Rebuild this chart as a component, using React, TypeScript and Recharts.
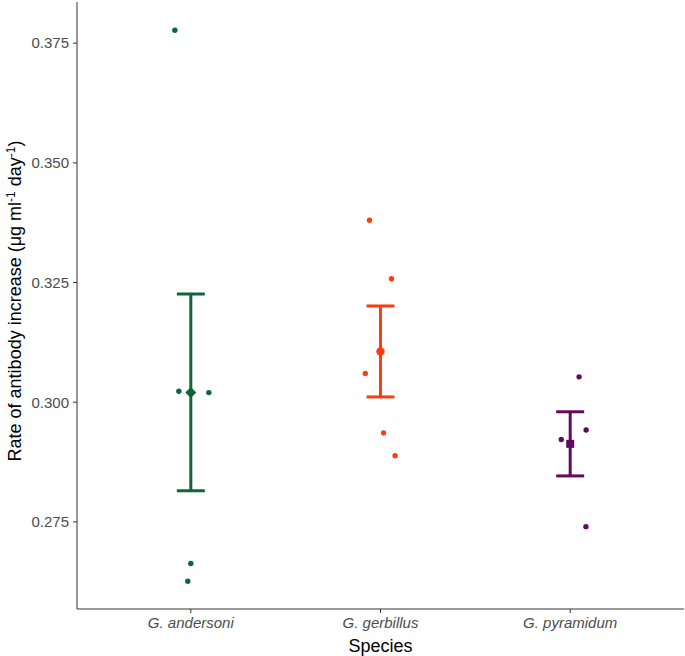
import {
  ComposedChart,
  Scatter,
  XAxis,
  YAxis,
  ErrorBar,
} from "recharts";

const species = ["G. andersoni", "G. gerbillus", "G. pyramidum"];
const colors = ["#0d6638", "#fc3d0f", "#600a60"];

// individual animals (x = jitter offset from group centre, in category units)
const andersoniJitter = [-0.084, -0.063, 0.095, 0.0, -0.016];
const andersoniRate = [0.3777, 0.3023, 0.302, 0.2663, 0.2626];
const gerbillusJitter = [-0.058, 0.058, -0.08, 0.016, 0.077];
const gerbillusRate = [0.338, 0.3258, 0.306, 0.2936, 0.2888];
const pyramidumJitter = [0.047, 0.084, -0.047, 0.083];
const pyramidumRate = [0.3053, 0.2942, 0.2922, 0.274];

// group means with error limits
const meanRate = [0.302, 0.3106, 0.2913];
const lowerRate = [0.2815, 0.3011, 0.2846];
const upperRate = [0.3226, 0.3201, 0.298];

const yTicks = [0.275, 0.3, 0.325, 0.35, 0.375];

const FONT = "'Liberation Sans', Arial, sans-serif";

const toPoints = (group: number, jitter: number[], rate: number[]) =>
  rate.map((r, i) => ({ x: group + 1 + jitter[i], y: r }));

const pointsData = [
  toPoints(0, andersoniJitter, andersoniRate),
  toPoints(1, gerbillusJitter, gerbillusRate),
  toPoints(2, pyramidumJitter, pyramidumRate),
];

const meansData = meanRate.map((m, i) => ({
  x: i + 1,
  y: m,
  err: [m - lowerRate[i], upperRate[i] - m],
}));

const dot = (color: string) => (props: any) => (
  <circle cx={props.cx} cy={props.cy} r={2.7} fill={color} />
);

const meanShape = (i: number) => (props: any) => {
  const { cx, cy } = props;
  const c = colors[i];
  if (i === 0)
    return (
      <path
        d={`M${cx},${cy - 5.5} L${cx + 5.5},${cy} L${cx},${cy + 5.5} L${cx - 5.5},${cy} Z`}
        fill={c}
      />
    );
  if (i === 1) return <circle cx={cx} cy={cy} r={4.2} fill={c} />;
  return <rect x={cx - 4} y={cy - 4} width={8} height={8} fill={c} />;
};

const YTitle = () => (
  <text
    transform="translate(21,301) rotate(-90)"
    textAnchor="middle"
    fontFamily={FONT}
    fontSize={18}
    fill="#000"
  >
    Rate of antibody increase (μg ml
    <tspan dy={-6} fontSize={12}>-1</tspan>
    <tspan dy={6}> day</tspan>
    <tspan dy={-6} fontSize={12}>-1</tspan>
    <tspan dy={6}>)</tspan>
  </text>
);

export default function App() {
  return (
    <div style={{ position: "absolute", left: 0, top: 0 }}>
      <ComposedChart
        width={685}
        height={656}
        margin={{ top: 2, right: 1, left: 0, bottom: 0 }}
      >
        <XAxis
          type="number"
          dataKey="x"
          domain={[0.4, 3.6]}
          ticks={[1, 2, 3]}
          tickFormatter={(v: number) => species[v - 1]}
          height={47}
          allowDataOverflow
          stroke="#333"
          tickSize={4}
          tickMargin={4}
          tick={{ fill: "#4d4d4d", fontSize: 15, fontStyle: "italic", fontFamily: FONT }}
          label={{
            value: "Species",
            position: "insideBottom",
            offset: 4,
            fill: "#000",
            fontSize: 18,
            fontFamily: FONT,
          }}
        />
        <YAxis
          type="number"
          dataKey="y"
          domain={[0.2568, 0.3836]}
          ticks={yTicks}
          tickFormatter={(v: number) => v.toFixed(3)}
          width={77}
          allowDataOverflow
          stroke="#333"
          tickSize={4}
          tickMargin={4}
          tick={{ fill: "#4d4d4d", fontSize: 15, fontFamily: FONT }}
          label={{ content: () => <YTitle /> }}
        />
        {pointsData.map((pts, i) => (
          <Scatter
            key={species[i]}
            data={pts}
            dataKey="y"
            shape={dot(colors[i])}
            isAnimationActive={false}
          />
        ))}
        {meansData.map((m, i) => (
          <Scatter
            key={"mean" + i}
            data={[m]}
            dataKey="y"
            shape={meanShape(i)}
            isAnimationActive={false}
          >
            <ErrorBar
              dataKey="err"
              direction="y"
              width={14}
              stroke={colors[i]}
              strokeWidth={3}
              isAnimationActive={false}
            />
          </Scatter>
        ))}
      </ComposedChart>
    </div>
  );
}
